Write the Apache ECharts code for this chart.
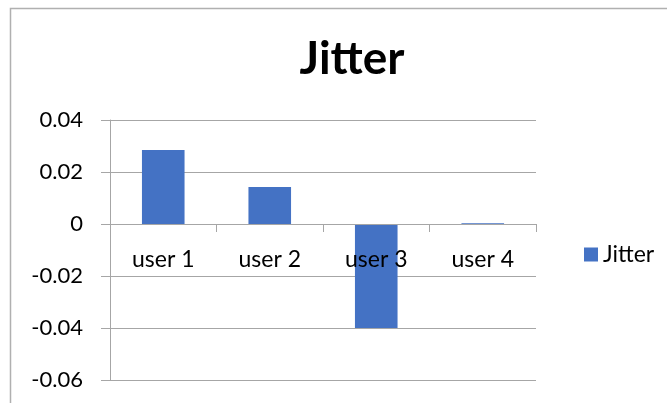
<!DOCTYPE html>
<html><head><meta charset="utf-8">
<script src="https://cdn.jsdelivr.net/npm/echarts@6/dist/echarts.min.js"></script>
<style>html,body{margin:0;padding:0;background:#fff}#c{width:667px;height:403px}</style>
</head><body><div id="c"></div>
<script>
const categories = ['user 1', 'user 2', 'user 3', 'user 4'];
const jitterValues = [0.0285, 0.0142, -0.04, 0.0003];
const seriesName = 'Jitter';
const yMin = -0.06, yMax = 0.04, yStep = 0.02;
const FONT = 'Lato';

const gridTop = 120, gridBottom = 23, H = 403;
const plotH = H - gridTop - gridBottom;
const zeroOffset = -plotH * (0 - yMin) / (yMax - yMin);

const chart = echarts.init(document.getElementById('c'));
chart.setOption({
  animation: false,
  backgroundColor: '#fff',
  textStyle: { fontFamily: FONT },
  title: {
    text: seriesName, left: 347, top: 31, textAlign: 'center',
    textStyle: { fontFamily: FONT, fontSize: 46, fontWeight: 'bold', color: '#000' }
  },
  graphic: [{
    type: 'rect', shape: { x: 10.5, y: 8.5, width: 700, height: 500 },
    style: { fill: 'none', stroke: '#b0b0b0', lineWidth: 1.5 }, silent: true
  }],
  legend: {
    data: [seriesName], left: 579, top: 238, icon: 'rect', itemWidth: 14, itemHeight: 14, itemGap: 5,
    textStyle: { fontFamily: FONT, fontSize: 23, color: '#000' }
  },
  grid: { left: 110, right: 131, top: gridTop, bottom: gridBottom, containLabel: false, outerBoundsMode: 'none' },
  xAxis: {
    type: 'category', data: categories, position: 'bottom', offset: zeroOffset, z: 5,
    axisLine: { onZero: false, lineStyle: { color: '#a6a6a6', width: 1 } },
    axisTick: { show: true, alignWithLabel: false, length: 8, lineStyle: { color: '#a6a6a6' } },
    axisLabel: { margin: 24, fontFamily: FONT, fontSize: 23, color: '#000' },
    splitLine: { show: false }
  },
  yAxis: {
    type: 'value', min: yMin, max: yMax, interval: yStep,
    axisLine: { show: true, lineStyle: { color: '#a6a6a6', width: 1 } },
    axisTick: { show: true, length: 9, lineStyle: { color: '#a6a6a6' } },
    axisLabel: { margin: 27, fontFamily: FONT, fontSize: 22, color: '#000',
      formatter: v => String(parseFloat(v.toFixed(2))) },
    splitLine: { show: true, lineStyle: { color: '#a6a6a6', width: 1 } }
  },
  series: [{
    name: seriesName, type: 'bar', data: jitterValues, barWidth: '40%',
    itemStyle: { color: '#4472C4' }
  }]
});
</script></body></html>
